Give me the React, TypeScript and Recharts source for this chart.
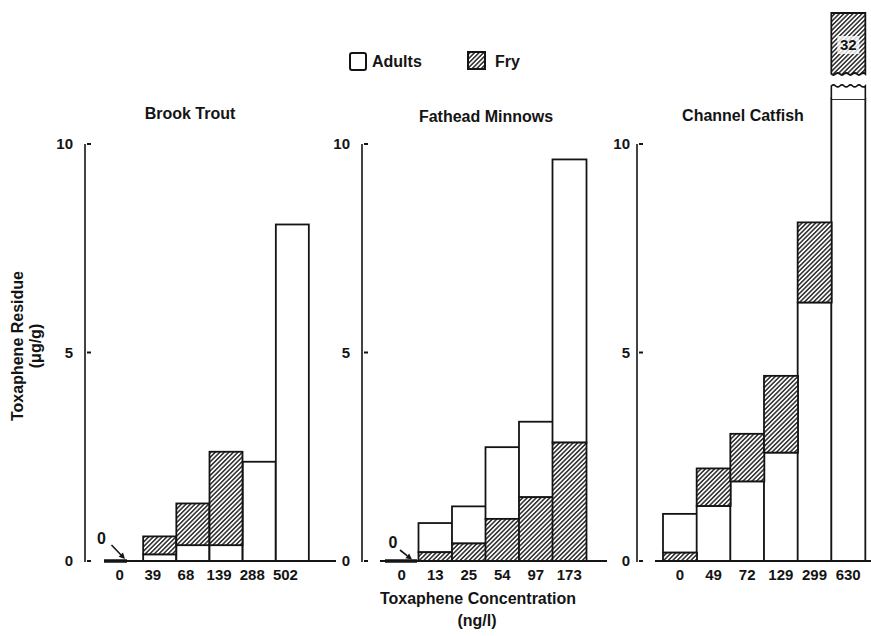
import React from 'react';
import { BarChart, Bar, XAxis, YAxis } from 'recharts';

// ---------------- data ----------------
const brookConc = ['0', '39', '68', '139', '288', '502'];
const brookAdults = [0, 0.16, 0.38, 0.38, 2.38, 8.07];
const brookFry: (number | null)[] = [0, 0.59, 1.38, 2.62, null, null];

const fatheadConc = ['0', '13', '25', '54', '97', '173'];
const fatheadAdults = [0, 0.91, 1.31, 2.73, 3.34, 9.63];
const fatheadFry = [0, 0.21, 0.42, 1.01, 1.53, 2.84];

const catfishConc = ['0', '49', '72', '129', '299', '630'];
const catfishAdults = [1.13, 1.32, 1.91, 2.6, 6.2, 11.08];
const catfishFry = [0.2, 2.22, 3.05, 4.44, 8.12, 32];

const yTicks = [0, 5, 10];
const panelTitles = ['Brook Trout', 'Fathead Minnows', 'Channel Catfish'];
const legendLabels = ['Adults', 'Fry'];
const yTitle = ['Toxaphene Residue', '(\u03bcg/g)'];
const xTitle = ['Toxaphene Concentration', '(ng/l)'];

// ---------------- layout ----------------
const W = 871;
const H = 636;
const BASE_Y = 561;
const XAXIS_H = 30;
const YAXIS_W = 60;
const FONT = "'Liberation Sans', Arial, Helvetica, sans-serif";
const INK = '#141414';

const panels = [
  {
    id: 'p1', plotLeft: 104, plotRight: 336, plotTop: 144, domainMax: 10, overflow: false,
    padL: 6, padR: 27, axisX: 85, labelGap: 12, tickDx: -7,
    zero: { line: [-6, 17], text: [-8.5, -23], tail: [1.5, -16], head: [15, -2] },
    title: { x: 190, y: 119 },
  },
  {
    id: 'p2', plotLeft: 380, plotRight: 607, plotTop: 144, domainMax: 10, overflow: false,
    padL: 5, padR: 21, axisX: 362, labelGap: 12, tickDx: 0,
    zero: { line: [0, 32], text: [8, -19], tail: [15, -11], head: [27, -1.5] },
    title: { x: 486, y: 122 },
  },
  {
    id: 'p3', plotLeft: 655, plotRight: 871, plotTop: 10, domainMax: (BASE_Y - 10) / 41.7, overflow: true,
    padL: 8, padR: 6, axisX: 637, labelGap: 7, tickDx: 0,
    zero: { line: [0, 30], text: [0, -20], tail: [0, -12], head: [10, -2] },
    title: { x: 743, y: 121 },
  },
];

function wave(x0: number, x1: number, y: number, amp: number, n: number) {
  let d = '';
  const step = (x1 - x0) / n;
  for (let k = 0; k < n; k++) {
    const cx = x0 + (k + 0.5) * step;
    const ex = x0 + (k + 1) * step;
    d += ` Q ${cx} ${y + (k % 2 === 0 ? -amp : amp)} ${ex} ${y}`;
  }
  return d;
}

function arrow(x1: number, y1: number, x2: number, y2: number) {
  const dx = x2 - x1;
  const dy = y2 - y1;
  const L = Math.hypot(dx, dy) || 1;
  const ux = dx / L;
  const uy = dy / L;
  const hl = 6;
  const hw = 3;
  const bx = x2 - ux * hl;
  const by = y2 - uy * hl;
  const pts = `${x2},${y2} ${bx - uy * hw},${by + ux * hw} ${bx + uy * hw},${by - ux * hw}`;
  return (
    <g>
      <line x1={x1} y1={y1} x2={bx} y2={by} stroke={INK} strokeWidth={1.6} />
      <polygon points={pts} fill={INK} />
    </g>
  );
}

function makeShape(self: 'adults' | 'fry', other: 'adults' | 'fry', cfg: any, hatchId: string) {
  return (props: any) => {
    const { x, y, width, height, payload } = props;
    const v = payload ? payload[self] : null;
    const o = payload ? payload[other] : null;
    if (v == null || x == null || y == null) return <g />;
    const base = y + (height || 0);
    if (v === 0) {
      if (self === 'adults' && (o == null || o === 0)) {
        const z = cfg.zero;
        return (
          <g>
            <line x1={x + z.line[0]} x2={x + z.line[1]} y1={base} y2={base} stroke={INK} strokeWidth={3.5} />
            <text x={x + z.text[0]} y={base + z.text[1]} dy="0.36em" textAnchor="middle"
              fontFamily={FONT} fontWeight={700} fontSize={16} fill={INK}>0</text>
            {arrow(x + z.tail[0], base + z.tail[1], x + z.head[0], base + z.head[1])}
          </g>
        );
      }
      return <g />;
    }
    const ppu = height / v;
    const fill = self === 'fry' ? `url(#${hatchId})` : '#ffffff';
    let bottom = base;
    if (o != null && o > 0 && o < v) bottom = base - o * ppu;
    const plotTop = props.background && props.background.y != null ? props.background.y : cfg.plotTop;
    if (y < plotTop - 1) {
      // broken (off-scale) bar
      const xr = x + width;
      const wTop = bottom - 13;
      const hBot = bottom - 25;
      const hTop = plotTop + 3;
      const whitePath = `M ${x} ${bottom} L ${x} ${wTop}` + wave(x, xr, wTop, 2, 8) + ` L ${xr} ${bottom}`;
      const hatchPath = `M ${x} ${hBot} L ${x} ${hTop} L ${xr} ${hTop} L ${xr} ${hBot}` + wave(xr, x, hBot, 2, 8) + ' Z';
      const cy = hTop + 32;
      return (
        <g>
          <path d={whitePath} fill="#fff" stroke={INK} strokeWidth={1.6} />
          <path d={hatchPath} fill={`url(#${hatchId})`} stroke={INK} strokeWidth={1.8} />
          <rect x={x + width / 2 - 11} y={cy - 9} width={22} height={18} fill="#fff" opacity={0.8} />
          <text x={x + width / 2} y={cy} dy="0.36em" textAnchor="middle" fontFamily={FONT}
            fontWeight={700} fontSize={15} fill={INK}>{v}</text>
        </g>
      );
    }
    return (
      <rect x={x} y={y} width={width} height={Math.max(0, bottom - y)} fill={fill}
        stroke={INK} strokeWidth={1.8} />
    );
  };
}

function Panel({ cfg, conc, adults, fry }: any) {
  const data = conc.map((c: string, i: number) => ({ conc: c, adults: adults[i], fry: fry[i] }));
  const ppu = (BASE_Y - cfg.plotTop) / cfg.domainMax;
  const margin = {
    top: cfg.plotTop,
    left: cfg.plotLeft - YAXIS_W,
    right: W - cfg.plotRight,
    bottom: H - BASE_Y - XAXIS_H,
  };
  const hatchId = `hatch-${cfg.id}`;

  const yTick = (p: any) => {
    const val = p.payload ? p.payload.value : null;
    const ty = p.y;
    return (
      <g>
        <text x={cfg.axisX - cfg.labelGap} y={ty} dy="0.36em" textAnchor="end" fontFamily={FONT}
          fontWeight={700} fontSize={15} fill={INK}>{val}</text>
        <line x1={cfg.axisX + 2} x2={cfg.axisX + 6} y1={ty} y2={ty} stroke={INK} strokeWidth={2} />
        {val === 0 ? (
          <line x1={cfg.axisX} x2={cfg.axisX} y1={ty + 1} y2={ty - 10 * ppu} stroke={INK} strokeWidth={1.6} />
        ) : null}
      </g>
    );
  };

  const xTick = (p: any) => (
    <text x={p.x + cfg.tickDx} y={p.y} dy="0.71em" textAnchor="middle" fontFamily={FONT}
      fontWeight={700} fontSize={15} fill={INK}>{p.payload ? p.payload.value : ''}</text>
  );

  return (
    <div style={{ position: 'absolute', left: 0, top: 0 }}>
      <BarChart width={W} height={H} data={data} margin={margin} barCategoryGap={0} barGap={0}>
        <defs>
          <pattern id={hatchId} patternUnits="userSpaceOnUse" width={3.2} height={3.2}
            patternTransform="rotate(45)">
            <rect width={3.2} height={3.2} fill="#fff" />
            <line x1={1.6} y1={0} x2={1.6} y2={3.2} stroke="#1a1a1a" strokeWidth={1.4} />
          </pattern>
        </defs>
        <XAxis xAxisId="a" dataKey="conc" type="category" height={XAXIS_H} interval={0}
          padding={{ left: cfg.padL, right: cfg.padR }} tickLine={false} tickSize={6} tickMargin={2}
          axisLine={{ stroke: INK, strokeWidth: 2 }} tick={xTick} />
        <XAxis xAxisId="b" dataKey="conc" type="category" hide
          padding={{ left: cfg.padL, right: cfg.padR }} />
        <YAxis type="number" domain={[0, cfg.domainMax]} ticks={yTicks} interval={0}
          allowDataOverflow={cfg.overflow} axisLine={false} tickLine={false} width={YAXIS_W}
          tick={yTick} />
        <Bar xAxisId="a" dataKey="adults" fill="#fff" isAnimationActive={false}
          shape={makeShape('adults', 'fry', cfg, hatchId)} />
        <Bar xAxisId="b" dataKey="fry" fill="#fff" isAnimationActive={false}
          shape={makeShape('fry', 'adults', cfg, hatchId)} />
      </BarChart>
    </div>
  );
}

export default function App() {
  const txt = { fontFamily: FONT, fontWeight: 700, fontSize: 16, fill: INK } as any;
  return (
    <div style={{ position: 'absolute', left: 0, top: 0, width: W, height: H, background: '#fff', overflow: 'hidden' }}>
      <Panel cfg={panels[0]} conc={brookConc} adults={brookAdults} fry={brookFry} />
      <Panel cfg={panels[1]} conc={fatheadConc} adults={fatheadAdults} fry={fatheadFry} />
      <Panel cfg={panels[2]} conc={catfishConc} adults={catfishAdults} fry={catfishFry} />
      <svg width={W} height={H} style={{ position: 'absolute', left: 0, top: 0, pointerEvents: 'none' }}>
        <defs>
          <pattern id="hatch-legend" patternUnits="userSpaceOnUse" width={3.2} height={3.2}
            patternTransform="rotate(45)">
            <rect width={3.2} height={3.2} fill="#fff" />
            <line x1={1.6} y1={0} x2={1.6} y2={3.2} stroke="#1a1a1a" strokeWidth={1.4} />
          </pattern>
        </defs>
        {/* legend */}
        <rect x={350} y={53} width={16} height={17} rx={2} fill="#fff" stroke={INK} strokeWidth={2} />
        <text x={372} y={67} {...txt}>{legendLabels[0]}</text>
        <rect x={468} y={52} width={17} height={17} fill="url(#hatch-legend)" stroke={INK} strokeWidth={2} />
        <text x={495} y={67} {...txt}>{legendLabels[1]}</text>
        {/* panel titles */}
        {panels.map((p, i) => (
          <text key={p.id} x={p.title.x} y={p.title.y} textAnchor="middle" {...txt}>{panelTitles[i]}</text>
        ))}
        {/* y title */}
        <text transform="translate(23,346) rotate(-90)" textAnchor="middle" {...txt}>{yTitle[0]}</text>
        <text transform="translate(41,346) rotate(-90)" textAnchor="middle" {...txt}>{yTitle[1]}</text>
        {/* x title */}
        <text x={478} y={604} textAnchor="middle" {...txt}>{xTitle[0]}</text>
        <text x={477} y={626} textAnchor="middle" {...txt}>{xTitle[1]}</text>
      </svg>
    </div>
  );
}
